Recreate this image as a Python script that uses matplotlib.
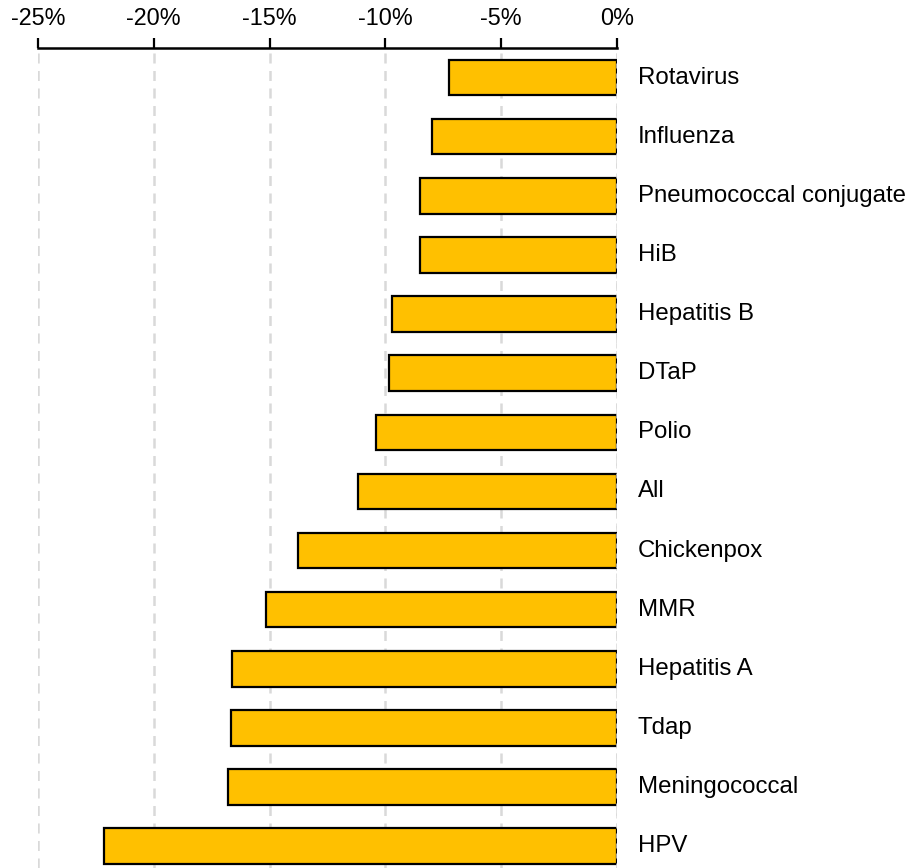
import matplotlib
matplotlib.use('Agg')
import matplotlib.pyplot as plt
from matplotlib.ticker import FuncFormatter

plt.rcParams['font.family'] = ['Liberation Sans', 'DejaVu Sans']

# Vacunas y caída porcentual
vaccines = ['Rotavirus', 'Influenza', 'Pneumococcal conjugate', 'HiB',
            'Hepatitis B', 'DTaP', 'Polio', 'All', 'Chickenpox', 'MMR',
            'Hepatitis A', 'Tdap', 'Meningococcal', 'HPV']
change = [-7.25, -7.97, -8.49, -8.50, -9.71, -9.84, -10.42, -11.18,
          -13.76, -15.17, -16.61, -16.67, -16.81, -22.13]
ticks = [-25, -20, -15, -10, -5, 0]

fig = plt.figure(figsize=(9.09, 8.68), dpi=100)
ax = fig.add_axes([38 / 909, 0, (617 - 38) / 909, 1 - 48 / 868])

y = range(len(vaccines))
ax.barh(y, change, height=0.6, color='#FFC000', edgecolor='black',
        linewidth=1.6, zorder=2)

# Etiquetas a la derecha del cero
for i, name in enumerate(vaccines):
    ax.text(0.9, i, name, va='center', ha='left', fontsize=17.3,
            clip_on=False)

ax.set_xlim(-25, 0)
ax.set_ylim(13.37, -0.5)
ax.set_xticks(ticks)
ax.xaxis.set_major_formatter(FuncFormatter(lambda v, p: f'{v:.0f}%'))
ax.xaxis.tick_top()
ax.tick_params(axis='x', direction='out', length=7, width=1.6,
               labelsize=16.8, pad=6)
ax.set_yticks([])

ax.grid(axis='x', color='#d9d9d9', linestyle=(0, (4, 3)), linewidth=1.8,
        zorder=0)
ax.set_axisbelow(True)
ax.axvline(0, color='#d9d9d9', linestyle=(0, (2, 2)), linewidth=1.8,
           zorder=3)

for s in ['bottom', 'left', 'right']:
    ax.spines[s].set_visible(False)
ax.spines['top'].set_linewidth(1.8)

fig.savefig('out.png', dpi=100)
